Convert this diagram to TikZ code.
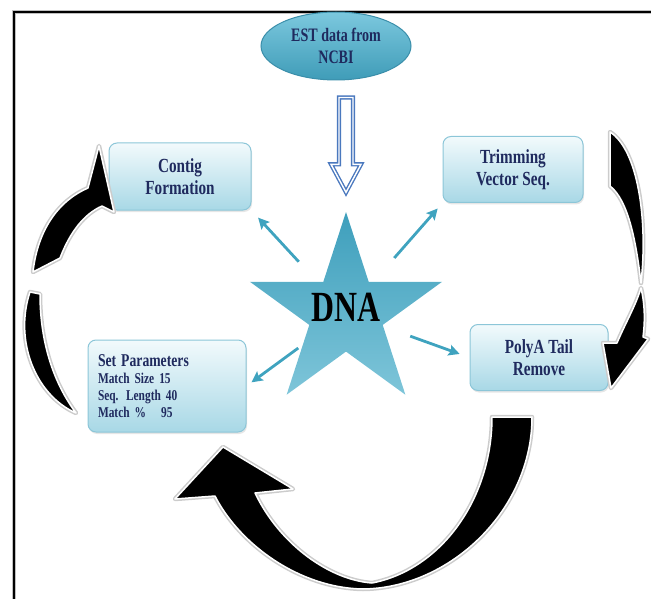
\documentclass[tikz,border=0pt]{standalone}
\usepackage{fontspec}
\setmainfont{Liberation Serif}
\newfontfamily\boxfont[FakeStretch=0.76]{Liberation Serif}
\newfontfamily\narrowfont[FakeStretch=0.74]{Liberation Serif}
\usetikzlibrary{shapes.geometric,arrows.meta,calc,shadows}

\definecolor{navytext}{HTML}{1F2A5E}
\definecolor{boxtop}{HTML}{F2FAFC}
\definecolor{boxbottom}{HTML}{A8D8E6}
\definecolor{boxline}{HTML}{8CC6D8}
\definecolor{esttop}{HTML}{7CC8DE}
\definecolor{estbottom}{HTML}{3F9CB8}
\definecolor{estline}{HTML}{3A8EAA}
\definecolor{startop}{HTML}{3E9FBC}
\definecolor{starbottom}{HTML}{7EC5D9}
\definecolor{linkteal}{HTML}{3FA3BF}
\definecolor{arrowblue}{HTML}{4A78BE}

\tikzset{
	procbox/.style={draw=boxline, line width=1pt, rounded corners=8pt,
		top color=boxtop, bottom color=boxbottom, text=navytext,
		font=\boxfont\bfseries\fontsize{20}{22}\selectfont, align=center,
		minimum width=140pt, minimum height=66pt, inner sep=0pt,
		drop shadow={opacity=0.2, shadow xshift=1pt, shadow yshift=-2pt}},
	link/.style={draw=linkteal, line width=2.8pt,
		-{Stealth[length=11pt,width=11pt,inset=2pt]}},
	hollowarrow/.style={draw=arrowblue, line width=1.4pt, double=white,
		double distance=1.4pt, fill=white, line join=miter},
	bigarrow/.style={fill=black, draw=white, line width=1.5pt, line join=round,
		preaction={draw=gray!40, line width=4.5pt, line join=round}}
}

\begin{document}
\begin{tikzpicture}[x=1pt,y=-1pt]
	\useasboundingbox (0,0) rectangle (651,599);
	\draw[line width=2.2pt, preaction={draw=gray!50, line width=3.4pt}] (14,599) -- (14,12) -- (651,12);

	\node[ellipse, minimum width=150pt, minimum height=68pt, inner sep=0pt,
		draw=estline, line width=1pt, top color=esttop, bottom color=estbottom,
		text=navytext, align=center, font=\narrowfont\bfseries\fontsize{19}{22}\selectfont] (est) at (336,46) {EST data from\\NCBI};
	\node[star, star points=5, star point ratio=2.618, minimum size=202pt, inner sep=0pt,
		top color=startop, bottom color=starbottom,
		label={[font=\narrowfont\bfseries\fontsize{43}{43}\selectfont, yshift=6pt]center:DNA}] (dna) at (346,313) {};

	\node[procbox, minimum width=142pt, minimum height=67pt] (contig) at (180,176.5) {Contig\\Formation};
	\node[procbox] (trim) at (513,169.5) {Trimming\\Vector Seq.};
	\node[procbox, minimum width=138pt] (polya) at (539,357.5) {PolyA Tail\\Remove};
	\node[procbox, minimum width=158pt, minimum height=92pt, align=left, text width=138pt,
		font=\boxfont\bfseries\fontsize{15}{17}\selectfont] (param) at (167,386)
		{{\fontsize{18}{17}\selectfont Set Parameters}\\Match Size 15\\Seq. Length 40\\Match \%\hspace{15pt}95};

	\coordinate (atip) at ([yshift=19pt]dna.north);
	\coordinate (atop) at ($(atip |- est.south)+(0,-17pt)$);
	\draw[hollowarrow] ($(atop)+(-7pt,0)$) -- ($(atop)+(7pt,0)$) -- ($(atip)+(7pt,28pt)$)
		-- ($(atip)+(15pt,28pt)$) -- (atip) -- ($(atip)+(-15pt,28pt)$) -- ($(atip)+(-7pt,28pt)$) -- cycle;

	\foreach \target/\from/\to in {contig.south east/0.5/0.93, trim.south west/0.5/0.95,
		polya.west/0.52/0.92, param.east/0.48/0.95} {
		\draw[link] ($(dna.center)!\from!(\target)$) -- ($(dna.center)!\to!(\target)$);
	}

	\path[bigarrow] (30,292) .. controls (14,340) and (35,395) .. (76,413)
		.. controls (55,385) and (40,345) .. (40,294) -- cycle;
	\path[bigarrow] (33,272) .. controls (38,228) and (60,200) .. (88,188) -- (99,146) -- (114,212)
		-- (102,206) .. controls (84,214) and (70,232) .. (60,258) -- cycle;
	\path[bigarrow] (610,132) .. controls (638,150) and (648,220) .. (641,283)
		.. controls (636,240) and (628,200) .. (610,186) -- cycle;
	\path[bigarrow] (641,288) .. controls (645,305) and (645,322) .. (643,337) -- (648,339) -- (611,388)
		-- (603,343) -- (617,343) .. controls (626,322) and (636,305) .. (641,288) -- cycle;
	\path[bigarrow] (532,417) .. controls (532,510) and (450,588) .. (363,589)
		.. controls (300,588) and (240,545) .. (215,496) -- (175,499) -- (223,447) -- (293,489)
		-- (255,493) .. controls (280,545) and (330,580) .. (372,583)
		.. controls (440,570) and (492,500) .. (492,417) -- cycle;
\end{tikzpicture}
\end{document}
